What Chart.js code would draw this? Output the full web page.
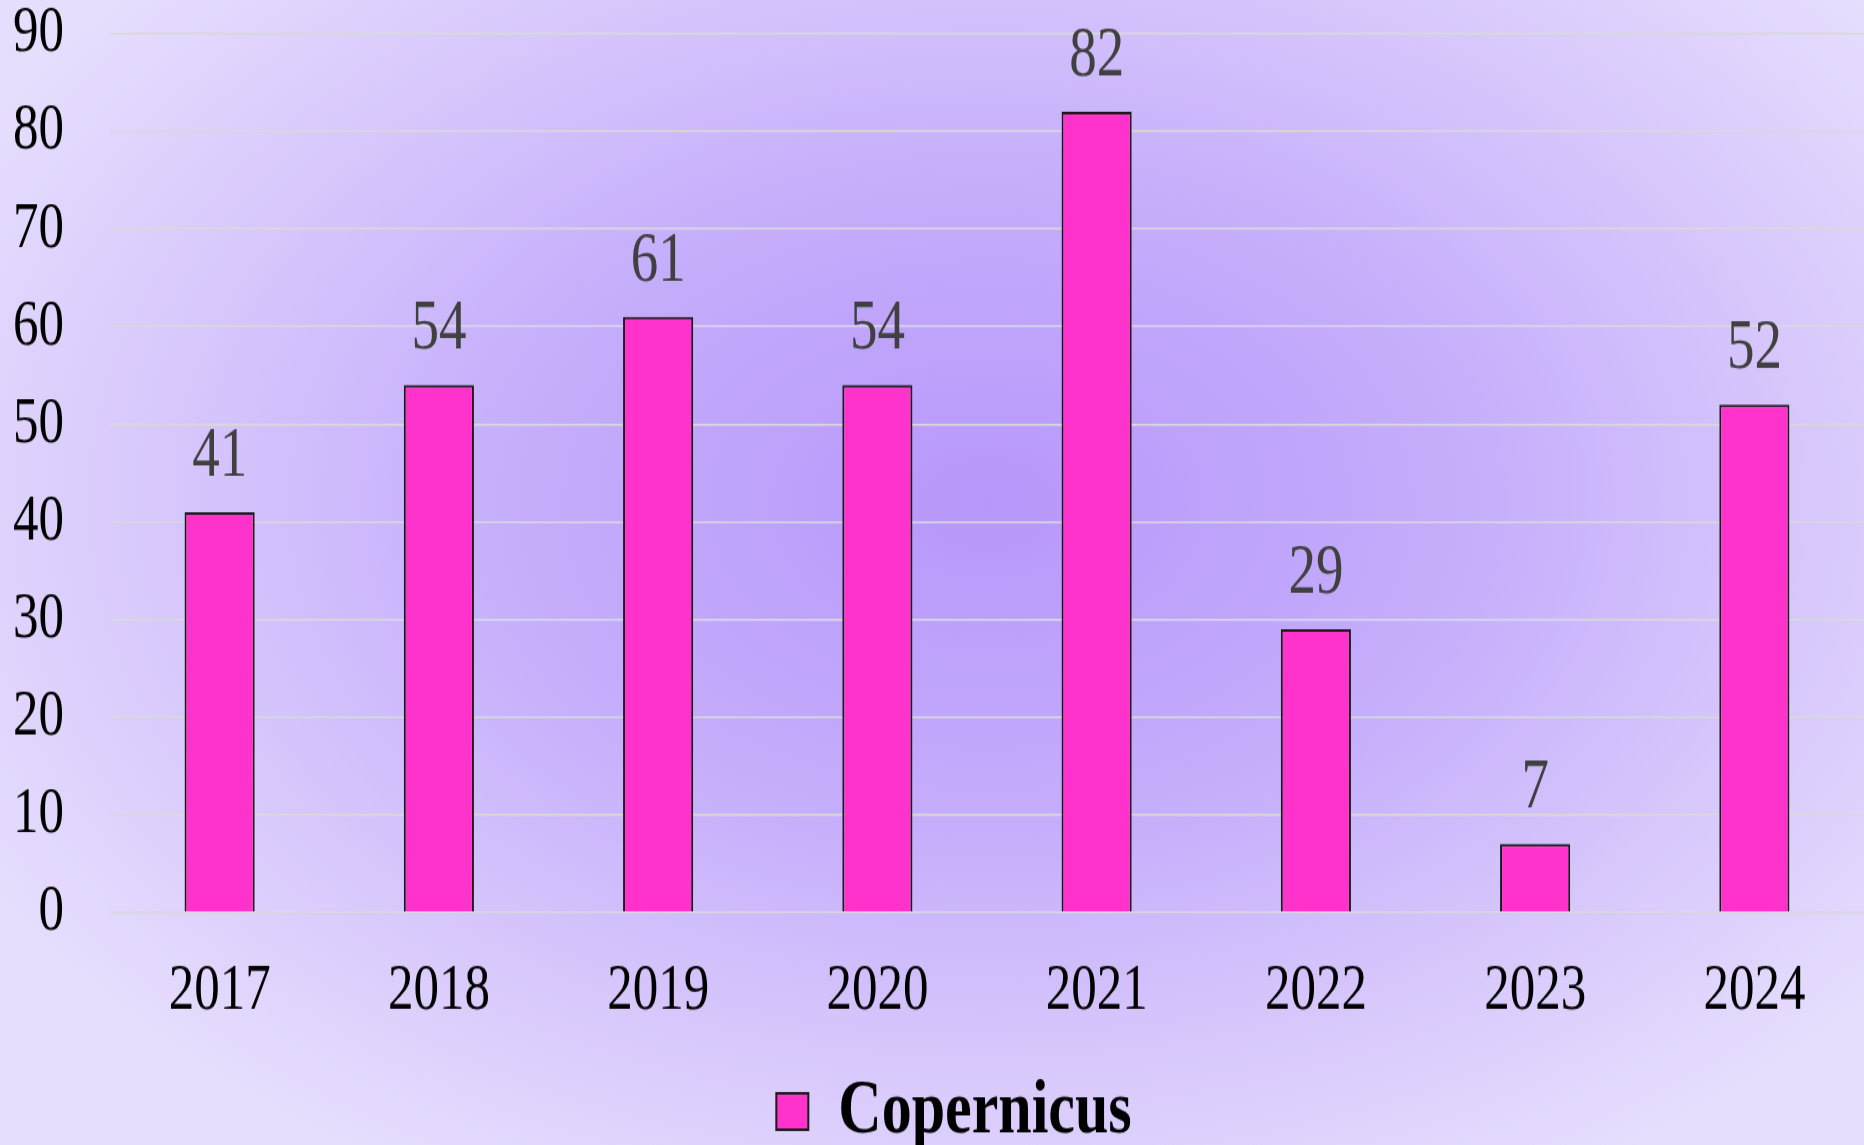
<!DOCTYPE html>
<html>
<head>
<meta charset="utf-8">
<script src="https://cdn.jsdelivr.net/npm/chart.js@4/dist/chart.umd.min.js"></script>
<style>
  html, body { margin: 0; padding: 0; }
  body {
    width: 1864px;
    height: 1145px;
    overflow: hidden;
    background: radial-gradient(ellipse 62% 68% at 53% 44%, #b797fa 0%, #c5aefb 42%, #d9cafc 75%, #e7defd 100%);
  }
  /* the source picture is stretched vertically, so the chart is too */
  #wrap {
    width: 1864px;
    height: 899px;
    transform: scaleY(1.3);
    transform-origin: 0 0;
  }
  canvas { display: block; }
</style>
</head>
<body>
<div id="wrap"><canvas id="chart" width="1864" height="899"></canvas></div>
<script>
const years = ["2017", "2018", "2019", "2020", "2021", "2022", "2023", "2024"];
const copernicus = [41, 54, 61, 54, 82, 29, 7, 52];
const seriesName = "Copernicus";
const yTicks = [0, 10, 20, 30, 40, 50, 60, 70, 80, 90];

const SERIF = '"Liberation Serif", "Times New Roman", serif';

// values above the bars
const valueLabels = {
  id: "valueLabels",
  afterDatasetsDraw(chart) {
    const { ctx } = chart;
    const meta = chart.getDatasetMeta(0);
    ctx.save();
    ctx.font = "55px " + SERIF;
    ctx.fillStyle = "#404040";
    ctx.textAlign = "center";
    ctx.textBaseline = "alphabetic";
    meta.data.forEach((bar, i) => {
      ctx.fillText(String(chart.data.datasets[0].data[i]), bar.x, bar.y - 28);
    });
    ctx.restore();
  },
};

// legend sits a bit right of centre in the original
const legendNudge = {
  id: "legendNudge",
  afterLayout(chart) {
    if (chart.legend) chart.legend.left += 44;
  },
};

new Chart(document.getElementById("chart"), {
  type: "bar",
  data: {
    labels: years,
    datasets: [
      {
        label: seriesName,
        data: copernicus,
        backgroundColor: "#ff33cc",
        borderColor: "#1a1a1a",
        borderWidth: 2,
        barPercentage: 0.32,
        categoryPercentage: 1,
      },
    ],
  },
  options: {
    responsive: false,
    animation: false,
    layout: { padding: { top: 26, right: 0, bottom: 4, left: 0 } },
    plugins: {
      tooltip: { enabled: false },
      legend: {
        position: "bottom",
        labels: {
          color: "#000",
          font: { family: SERIF, size: 60, weight: "bold" },
          boxWidth: 32,
          boxHeight: 28,
          padding: 10,
        },
      },
    },
    scales: {
      x: {
        grid: { display: false },
        border: { display: false },
        ticks: {
          color: "#000",
          font: { family: SERIF, size: 51 },
          padding: 22,
        },
      },
      y: {
        min: 0,
        max: 90,
        afterFit(scale) {
          scale.width = 110;
          scale.paddingTop = 0;
          scale.paddingBottom = 0;
        },
        afterBuildTicks(scale) {
          scale.ticks = yTicks.map((v) => ({ value: v }));
        },
        grid: { color: "#d8d8dc", lineWidth: 1.6, drawTicks: false },
        border: { display: false },
        ticks: {
          color: "#000",
          font: { family: SERIF, size: 51 },
          padding: 46,
        },
      },
    },
  },
  plugins: [valueLabels, legendNudge],
});
</script>
</body>
</html>
